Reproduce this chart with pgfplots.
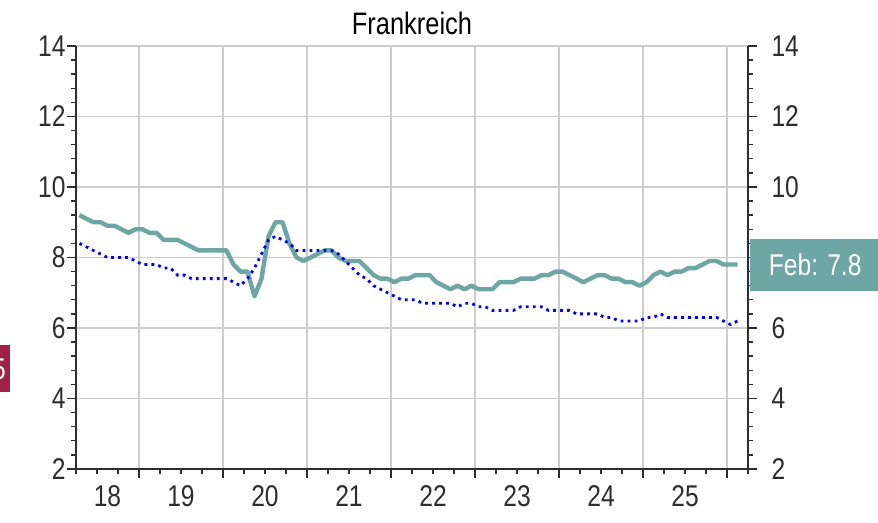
\documentclass[border=0pt]{standalone}
\usepackage{fontspec}
\setmainfont{Liberation Sans}[FakeStretch=0.82]
\usepackage{pgfplots}
\usepackage{pgfplotstable}
\pgfplotsset{compat=1.18}

\definecolor{tealline}{RGB}{110,166,166}
\definecolor{gridc}{RGB}{205,205,205}
\definecolor{axc}{RGB}{45,45,45}
\definecolor{redbox}{RGB}{160,32,72}

% m = month index (Jan 2018 = 0.5), rate = teal line, alt = dotted blue line
\pgfplotstableread{
m rate alt
3.5 9.2 8.4
4.5 9.1 8.3
5.5 9.0 8.2
6.5 9.0 8.1
7.5 8.9 8.0
8.5 8.9 8.0
9.5 8.8 8.0
10.5 8.7 8.0
11.5 8.8 7.9
12.5 8.8 7.8
13.5 8.7 7.8
14.5 8.7 7.8
15.5 8.5 7.7
16.5 8.5 7.7
17.5 8.5 7.5
18.5 8.4 7.5
19.5 8.3 7.4
20.5 8.2 7.4
21.5 8.2 7.4
22.5 8.2 7.4
23.5 8.2 7.4
24.5 8.2 7.4
25.5 7.8 7.3
26.5 7.6 7.2
27.5 7.6 7.4
28.5 6.9 7.7
29.5 7.4 8.1
30.5 8.6 8.5
31.5 9.0 8.6
32.5 9.0 8.5
33.5 8.4 8.4
34.5 8.0 8.2
35.5 7.9 8.2
36.5 8.0 8.2
37.5 8.1 8.2
38.5 8.2 8.2
39.5 8.2 8.2
40.5 8.0 8.1
41.5 7.9 7.9
42.5 7.9 7.7
43.5 7.9 7.5
44.5 7.7 7.4
45.5 7.5 7.2
46.5 7.4 7.1
47.5 7.4 7.0
48.5 7.3 6.9
49.5 7.4 6.8
50.5 7.4 6.8
51.5 7.5 6.8
52.5 7.5 6.7
53.5 7.5 6.7
54.5 7.3 6.7
55.5 7.2 6.7
56.5 7.1 6.7
57.5 7.2 6.6
58.5 7.1 6.7
59.5 7.2 6.7
60.5 7.1 6.6
61.5 7.1 6.6
62.5 7.1 6.5
63.5 7.3 6.5
64.5 7.3 6.5
65.5 7.3 6.5
66.5 7.4 6.6
67.5 7.4 6.6
68.5 7.4 6.6
69.5 7.5 6.6
70.5 7.5 6.5
71.5 7.6 6.5
72.5 7.6 6.5
73.5 7.5 6.5
74.5 7.4 6.4
75.5 7.3 6.4
76.5 7.4 6.4
77.5 7.5 6.4
78.5 7.5 6.3
79.5 7.4 6.3
80.5 7.4 6.2
81.5 7.3 6.2
82.5 7.3 6.2
83.5 7.2 6.2
84.5 7.3 6.3
85.5 7.5 6.3
86.5 7.6 6.4
87.5 7.5 6.3
88.5 7.6 6.3
89.5 7.6 6.3
90.5 7.7 6.3
91.5 7.7 6.3
92.5 7.8 6.3
93.5 7.9 6.3
94.5 7.9 6.3
95.5 7.8 6.2
96.5 7.8 6.1
97.5 7.8 6.2
}\frankreich

\begin{document}
\begin{tikzpicture}
\useasboundingbox (0,0) rectangle (878pt,522pt);
\pgfplotsset{
  every axis/.append style={
    at={(76pt,53pt)}, anchor=south west,
    scale only axis, width=672pt, height=423pt,
    xmin=3, xmax=99, ymin=2, ymax=14,
    ytick={2,4,...,14}, minor y tick num=4,
    tick align=outside,
    major tick length=9pt, minor tick length=5pt,
    every tick/.style={axc, line width=1.4pt},
    axis line style={axc, line width=1.8pt},
    ticklabel style={font=\fontsize{30}{36}\selectfont, text=axc},
    /pgf/number format/assume math mode=true,
  }
}
\begin{axis}[
  axis x line*=bottom, axis y line*=left,
  xtick={12,24,...,96}, xticklabels={},
  minor xtick={3,6,...,99},
  extra x ticks={7.5,18,30,42,54,66,78,90},
  extra x tick labels={18,19,20,21,22,23,24,25},
  extra x tick style={major tick length=0pt, grid=none,
    xticklabel style={yshift=-13pt}},
  yticklabel style={xshift=2pt},
  grid=major,
  major grid style={gridc, line width=1.3pt},
  title={Frankreich},
  title style={font=\fontsize{31}{36}\selectfont, at={(0.5,1)}, anchor=south, yshift=2pt},
]
\addplot[tealline, line width=4.4pt, line join=round] table[x=m, y=rate] {\frankreich};
\addplot[blue, line width=2.8pt, dash pattern=on 2.8pt off 4.2pt] table[x=m, y=alt] {\frankreich};
\coordinate (lastval) at (axis cs:99,7.8);
\end{axis}
\begin{axis}[
  axis x line=none, axis y line*=right,
  xtick=\empty,
  yticklabels={2,4,6,,10,12,14},
  yticklabel style={xshift=11pt},
]
\end{axis}
\node[fill=tealline, text=white, anchor=west, minimum height=52pt, minimum width=130pt,
      font=\fontsize{30}{36}\selectfont, inner sep=0pt] at ([xshift=2pt]lastval) {Feb: 7.8};
\fill[redbox] (-20pt,130pt) rectangle (10pt,177pt);
\node[text=white, anchor=east, font=\fontsize{30}{36}\selectfont, inner sep=0pt] at (6pt,153pt) {5};
\end{tikzpicture}
\end{document}
